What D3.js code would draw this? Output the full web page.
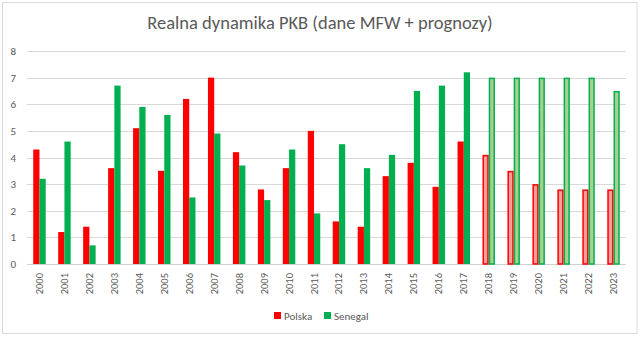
<!DOCTYPE html>
<html><head><meta charset="utf-8">
<script src="https://cdn.jsdelivr.net/npm/d3@7"></script>
<style>body{margin:0;background:#fff}svg{display:block}text{font-family:Carlito,Lato,"Liberation Sans",sans-serif}</style>
</head><body><svg id="c" width="640" height="337"></svg>
<script>
const years = ["2000","2001","2002","2003","2004","2005","2006","2007","2008","2009","2010","2011","2012","2013","2014","2015","2016","2017","2018","2019","2020","2021","2022","2023"];
const polska = [4.3,1.2,1.4,3.6,5.1,3.5,6.2,7.0,4.2,2.8,3.6,5.0,1.6,1.4,3.3,3.8,2.9,4.6,4.1,3.5,3.0,2.8,2.8,2.8];
const senegal = [3.2,4.6,0.7,6.7,5.9,5.6,2.5,4.9,3.7,2.4,4.3,1.9,4.5,3.6,4.1,6.5,6.7,7.2,7.0,7.0,7.0,7.0,7.0,6.5];
const forecastFrom = "2018";
const yTicks = [0,1,2,3,4,5,6,7,8];
const seriesNames = ["Polska","Senegal"];
const title = "Realna dynamika PKB (dane MFW + prognozy)";

const svg = d3.select("#c");
svg.append("rect").attr("x",2.5).attr("y",2.5).attr("width",634.5).attr("height",331).attr("fill","#fff").attr("stroke","#d9d9d9");

const x0 = d3.scaleBand().domain(years).range([27,626]).paddingInner(0.5).paddingOuter(0.25);
const x1 = d3.scaleBand().domain(seriesNames).range([0,x0.bandwidth()]);
const y = d3.scaleLinear().domain([0,8]).range([264,51]);

const g = svg.append("g");
g.selectAll(".grid").data(yTicks).join("line")
  .attr("x1",27).attr("x2",626).attr("y1",d=>Math.round(y(d))+0.5).attr("y2",d=>Math.round(y(d))+0.5)
  .attr("stroke",d=>d===0?"#d0d0d0":"#d9d9d9").attr("stroke-width",1);
g.selectAll(".yl").data(yTicks).join("text")
  .attr("x",16).attr("y",d=>y(d)+4).attr("text-anchor","end").attr("font-size",11).attr("fill","#595959").text(d=>d);

const colors = {Polska:{solid:"#ff0000",light:"#ff9d9d"},Senegal:{solid:"#00b050",light:"#a9d18e"}};
const rows = years.map((yr,i)=>({yr, vals:[{k:"Polska",v:polska[i]},{k:"Senegal",v:senegal[i]}], fc: +yr >= +forecastFrom}));
const grp = g.selectAll(".grp").data(rows).join("g").attr("transform",d=>`translate(${x0(d.yr)},0)`);
grp.selectAll("rect").data(d=>d.vals.map(v=>({...v,fc:d.fc}))).join("rect")
  .attr("x",d=>d.fc? x1(d.k)+0.75 : x1(d.k))
  .attr("width",d=>d.fc? x1.bandwidth()-1.5 : x1.bandwidth())
  .attr("y",d=>d.fc? y(d.v)+0.75 : y(d.v))
  .attr("height",d=>d.fc? y(0)-y(d.v)-0.75 : y(0)-y(d.v))
  .attr("fill",d=>d.fc? colors[d.k].light : colors[d.k].solid)
  .attr("stroke",d=>d.fc? colors[d.k].solid : "none")
  .attr("stroke-width",1.5);

g.selectAll(".xl").data(years).join("text")
  .attr("transform",d=>`translate(${x0(d)+x0.bandwidth()/2+3.5},273) rotate(-90)`)
  .attr("text-anchor","end").attr("font-size",10.5).attr("fill","#595959").text(d=>d);

svg.append("text").attr("x",320).attr("y",29).attr("text-anchor","middle").attr("font-size",18.5).attr("fill","#595959").text(title);

const leg = svg.append("g");
const legX = [274,324];
seriesNames.forEach((n,i)=>{
  leg.append("rect").attr("x",legX[i]).attr("y",312).attr("width",7).attr("height",7).attr("fill",colors[n].solid);
  leg.append("text").attr("x",legX[i]+10).attr("y",319.5).attr("font-size",11).attr("fill","#595959").text(n);
});
</script></body></html>
